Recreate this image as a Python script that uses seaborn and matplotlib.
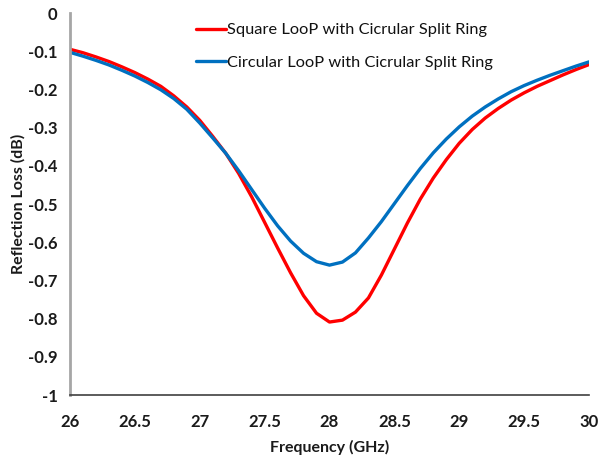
import numpy as np
import pandas as pd
import seaborn as sns
import matplotlib
matplotlib.use("Agg")
import matplotlib.pyplot as plt

# Frequency sweep (GHz)
freq = [26.0, 26.1, 26.2, 26.3, 26.4, 26.5, 26.6, 26.7, 26.8, 26.9,
        27.0, 27.1, 27.2, 27.3, 27.4, 27.5, 27.6, 27.7, 27.8, 27.9,
        28.0, 28.1, 28.2, 28.3, 28.4, 28.5, 28.6, 28.7, 28.8, 28.9,
        29.0, 29.1, 29.2, 29.3, 29.4, 29.5, 29.6, 29.7, 29.8, 29.9, 30.0]

# Reflection loss (dB) for each geometry
square_loop = [-0.095, -0.104, -0.115, -0.127, -0.141, -0.156, -0.173, -0.192, -0.217, -0.246,
               -0.281, -0.323, -0.367, -0.420, -0.481, -0.548, -0.615, -0.680, -0.740, -0.786,
               -0.809, -0.804, -0.783, -0.746, -0.686, -0.618, -0.550, -0.487, -0.432, -0.384,
               -0.341, -0.305, -0.275, -0.250, -0.228, -0.209, -0.192, -0.177, -0.162, -0.148, -0.135]
circular_loop = [-0.103, -0.113, -0.124, -0.136, -0.150, -0.165, -0.182, -0.201, -0.224, -0.252,
                 -0.288, -0.327, -0.367, -0.413, -0.462, -0.511, -0.557, -0.597, -0.629, -0.651,
                 -0.660, -0.652, -0.628, -0.589, -0.546, -0.499, -0.452, -0.407, -0.366, -0.330,
                 -0.298, -0.270, -0.246, -0.225, -0.206, -0.190, -0.176, -0.163, -0.151, -0.139, -0.128]

series_names = ["Square LooP with Cicrular Split Ring",
                "Circular LooP with Cicrular Split Ring"]
x_ticks = [26, 26.5, 27, 27.5, 28, 28.5, 29, 29.5, 30]
y_ticks = [0, -0.1, -0.2, -0.3, -0.4, -0.5, -0.6, -0.7, -0.8, -0.9, -1]

df = pd.DataFrame({
    "Frequency": freq * 2,
    "Loss": square_loop + circular_loop,
    "Design": [series_names[0]] * len(freq) + [series_names[1]] * len(freq),
})

sns.set_theme(style="white")
plt.rcParams["font.family"] = ["Lato", "DejaVu Sans"]

W, H = 600, 461
fig = plt.figure(figsize=(W / 100, H / 100), dpi=100)
ax = fig.add_axes([70 / W, 1 - 395 / H, 519 / W, 382 / H])

sns.lineplot(data=df, x="Frequency", y="Loss", hue="Design",
             palette={series_names[0]: "#FF0000", series_names[1]: "#0070C0"},
             linewidth=2.4, ax=ax, sort=False, legend=True)
for ln in ax.get_lines():
    ln.set_solid_joinstyle("round")
    ln.set_solid_capstyle("round")

ax.set_xlim(26, 30)
ax.set_ylim(-1, 0)
ax.set_xticks(x_ticks)
ax.set_xticklabels([f"{t:g}" for t in x_ticks])
ax.set_yticks(y_ticks)
ax.set_yticklabels([f"{t:g}" for t in y_ticks])

for side in ["top", "right"]:
    ax.spines[side].set_visible(False)
ax.spines["left"].set_color("#A6A6A6")
ax.spines["left"].set_linewidth(2.0)
ax.spines["bottom"].set_color("#404040")
ax.spines["bottom"].set_linewidth(1.2)

ax.tick_params(axis="both", which="major", direction="out", length=5,
               width=1.0, color="#8C8C8C", labelsize=12, pad=4)
ax.tick_params(axis="x", pad=9)
for lbl in ax.get_xticklabels() + ax.get_yticklabels():
    lbl.set_fontweight("bold")
    lbl.set_color("#1a1a1a")

ax.set_xlabel("Frequency (GHz)", fontsize=11.5, fontweight="bold", color="#1a1a1a")
ax.set_ylabel("Reflection Loss (dB)", fontsize=11.5, fontweight="bold", color="#1a1a1a")
ax.xaxis.set_label_coords(0.5, (395 - 447) / 382, transform=ax.transAxes)
ax.yaxis.set_label_coords((18 - 70) / 519, 0.5, transform=ax.transAxes)
ax.xaxis.label.set_va("center")
ax.yaxis.label.set_va("center")

leg = ax.legend(loc="upper left", bbox_to_anchor=(196 / W, 1 - 23 / H),
                bbox_transform=fig.transFigure, frameon=False,
                fontsize=11.8, handlelength=1.8, handletextpad=0.12,
                labelspacing=1.1, borderaxespad=0, borderpad=0)
for line in leg.get_lines():
    line.set_linewidth(2.4)
for txt in leg.get_texts():
    txt.set_color("#111111")

fig.savefig("out.png", dpi=100, facecolor="white")
